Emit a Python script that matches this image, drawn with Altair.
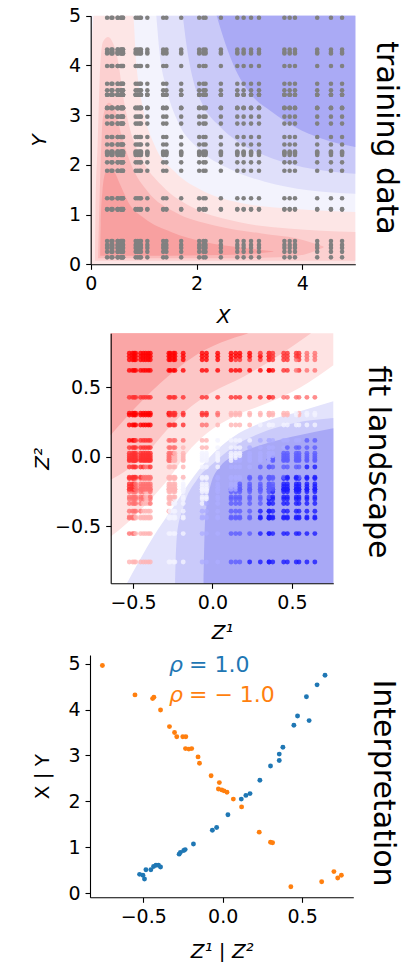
import altair as alt
import numpy as np
import pandas as pd

W, H = 404, 962
FONT = "DejaVu Sans"

# ---------------- values ----------------
# latent mapping, read from the "Interpretation" panel
x_vals = [0.41, 0.39, 0.31, 0.51, 0.51, 0.58, 0.61, 0.61, 0.57, 0.85, 0.89, 0.93, 0.95, 1.07,
          1.37, 1.43, 1.71, 2.05, 2.13, 2.17, 2.46, 2.77, 2.89, 3.03, 3.18, 3.66, 3.86, 3.76,
          4.28, 4.54, 4.75]
z1_vals = [-0.523, -0.502, -0.492, -0.483, -0.452, -0.435, -0.420, -0.404, -0.391, -0.274,
           -0.266, -0.245, -0.236, -0.184, -0.065, -0.038, 0.033, 0.117, 0.146, 0.172, 0.234,
           0.301, 0.356, 0.356, 0.379, 0.448, 0.471, 0.544, 0.527, 0.594, 0.644]
y_vals = [4.96, 4.32, 4.24, 4.27, 3.99, 3.63, 3.50, 3.41, 3.41, 3.41, 3.15, 3.14, 3.15, 2.97,
          2.83, 2.56, 2.41, 2.27, 2.25, 2.23, 2.20, 2.05, 1.88, 1.33, 1.11, 1.10, 0.14, 0.25,
          0.47, 0.33, 0.39]
z2_vals = [-0.757, -0.552, -0.441, -0.433, -0.391, -0.335, -0.303, -0.289, -0.251, -0.232,
           -0.234, -0.213, -0.195, -0.155, -0.146, -0.073, -0.021, -0.027, -0.006, 0.008,
           0.027, 0.067, 0.119, 0.230, 0.301, 0.314, 0.429, 0.623, 0.700, 0.724, 0.747]

# panel 1 ("training data") filled-contour band edges (data units)
p1_r0_x = [0.0, 0.06, 0.80, 0.86, 0.99, 1.21, 1.59, 2.15, 2.91, 3.86, 5.0]
p1_r0_y = [3.8, 5.0, 5.0, 4.07, 3.13, 2.39, 1.86, 1.46, 1.22, 1.11, 1.05]

p1_r1_x = [0.08, 0.09, 0.13, 0.17, 0.23, 0.33, 0.42, 0.52, 0.61, 0.74, 0.96, 1.34, 1.97, 2.79, 3.73, 5.0]
p1_r1_y = [0.07, 1.05, 2.39, 3.74, 4.47, 4.57, 4.45, 4.07, 3.40, 2.73, 2.13, 1.59, 1.12, 0.85, 0.72, 0.65]
p1_r1_y2 = [0.07] * 16

p1_r2_x = [0.14, 0.16, 0.19, 0.23, 0.34, 0.45, 0.58, 0.77, 1.08, 1.59, 2.34, 3.23, 3.90, 4.40]
p1_r2_y = [0.12, 1.05, 2.06, 2.95, 3.25, 3.13, 2.60, 1.99, 1.46, 1.05, 0.78, 0.62, 0.52, 0.36]
p1_r2_y2 = [0.12, 0.12, 0.12, 0.12, 0.12, 0.12, 0.12, 0.12, 0.12, 0.12, 0.12, 0.13, 0.17, 0.34]

p1_r3_x = [0.18, 0.19, 0.22, 0.28, 0.36, 0.45, 0.55, 0.71, 1.02, 1.52, 2.15, 2.91, 3.45]
p1_r3_y = [0.17, 0.80, 1.45, 1.85, 1.93, 1.85, 1.62, 1.25, 0.92, 0.65, 0.45, 0.33, 0.26]
p1_r3_y2 = [0.17, 0.17, 0.17, 0.17, 0.17, 0.17, 0.17, 0.17, 0.17, 0.17, 0.18, 0.20, 0.25]

p1_b1_x = [1.24, 1.30, 1.43, 1.65, 2.03, 2.60, 3.29, 4.11, 5.0]
p1_b1_y = [5.0, 4.27, 3.54, 2.86, 2.33, 1.93, 1.66, 1.49, 1.42]
p1_b2_x = [1.74, 1.81, 1.93, 2.12, 2.41, 2.79, 3.29, 3.86, 4.49, 5.0]
p1_b2_y = [5.0, 4.41, 3.73, 3.20, 2.80, 2.46, 2.19, 1.99, 1.87, 1.82]
p1_b3_x = [2.38, 2.60, 2.79, 3.04, 3.42, 3.86, 4.36, 5.0]
p1_b3_y = [5.0, 4.27, 3.80, 3.40, 3.07, 2.76, 2.53, 2.36]

# panel 2 ("fit landscape") band edges (data units)
p2_r0_x = [-0.64, -0.538, -0.392, -0.266, -0.161, -0.035, 0.132, 0.342, 0.552, 0.76]
p2_r0_y = [-0.573, -0.477, -0.309, -0.142, 0.027, 0.170, 0.290, 0.386, 0.500, 0.66]
p2_r1_x = [-0.64, -0.538, -0.413, -0.287, -0.161, -0.014, 0.195, 0.405, 0.62]
p2_r1_y = [-0.165, -0.094, 0.027, 0.194, 0.338, 0.458, 0.578, 0.722, 0.89]
p2_r2_x = [-0.64, -0.538, -0.329, -0.119, 0.227]
p2_r2_y = [0.158, 0.290, 0.530, 0.722, 0.89]
p2_b1_x = [-0.538, -0.371, -0.245, -0.119, 0.006, 0.132, 0.300, 0.509, 0.76]
p2_b1_y = [-0.91, -0.573, -0.358, -0.142, 0.027, 0.146, 0.242, 0.314, 0.40]
p2_b2_x = [-0.235, -0.224, -0.182, -0.098, 0.006, 0.132, 0.300, 0.509, 0.76]
p2_b2_y = [-0.91, -0.573, -0.358, -0.165, -0.046, 0.074, 0.170, 0.242, 0.28]
p2_b3_x = [-0.056, -0.046, -0.014, 0.048, 0.174, 0.342, 0.552, 0.76]
p2_b3_y = [-0.91, -0.453, -0.213, -0.069, 0.027, 0.098, 0.158, 0.206]

# domains and ticks
p1_xdom, p1_ydom = [0, 5], [0, 5]
p2_xdom, p2_ydom = [-0.64, 0.76], [-0.91, 0.89]
p3_xdom, p3_ydom = [-0.835, 0.822], [-0.09, 5.19]
p1_xticks, p1_yticks = [0, 2, 4], [0, 1, 2, 3, 4, 5]
p2_xticks, p2_yticks = [-0.5, 0.0, 0.5], [-0.5, 0.0, 0.5]
p3_xticks, p3_yticks = [-0.5, 0.0, 0.5], [0, 1, 2, 3, 4, 5]

# colours
p1_cols = {"base": "#f3f3fd", "r0": "#fde6e6", "r1": "#fcd0d0", "r2": "#fab9b9", "r3": "#f8a0a0",
           "b1": "#e0e0fa", "b2": "#c9c9f8", "b3": "#aaaaf5"}
p2_cols = {"r0": "#fee3e3", "r1": "#fcc6c6", "r2": "#faa6a6",
           "b1": "#e3e3fc", "b2": "#cacafa", "b3": "#a8a8f6"}
lev_domain = [-4, -3, -2, -1, 0, 1, 2, 3]
lev_range = ["#ff0000", "#ff3030", "#ff7070", "#ffb4b4", "#f2f2ff", "#adadff", "#5c5cff", "#1c1cff"]

# ---------------- layout (pixels) ----------------
P1 = dict(left=90.7, right=355.3, top=15.7, bottom=264.3)
P2 = dict(left=110.7, right=333.3, top=333.3, bottom=583.3)
P3 = dict(left=90.0, right=353.3, top=655.0, bottom=897.3)


def x_axis(P, vals, fmt, title, title_y, italic=True):
    return alt.Axis(orient="bottom", offset=P["bottom"] - H, values=vals, format=fmt, title=title,
                    grid=False, domainColor="black", domainWidth=1.1, tickColor="black",
                    tickWidth=1.1, tickSize=5, labelFont=FONT, labelFontSize=19,
                    labelColor="black", labelPadding=5, labelFlush=False, labelOverlap=False,
                    titleFont=FONT, titleFontSize=20, titleFontWeight="normal",
                    titleFontStyle="italic" if italic else "normal", titleColor="black",
                    titleX=(P["left"] + P["right"]) / 2, titleY=title_y - P["bottom"],
                    titleAlign="center", titleBaseline="middle", titleAngle=0, zindex=3)


def y_axis(P, vals, fmt, title, title_x, italic=True):
    return alt.Axis(orient="left", offset=-P["left"], values=vals, format=fmt, title=title,
                    grid=False, domainColor="black", domainWidth=1.1, tickColor="black",
                    tickWidth=1.1, tickSize=5, labelFont=FONT, labelFontSize=19,
                    labelColor="black", labelPadding=5, labelFlush=False, labelOverlap=False,
                    titleFont=FONT, titleFontSize=20, titleFontWeight="normal",
                    titleFontStyle="italic" if italic else "normal", titleColor="black",
                    titleX=title_x - P["left"], titleY=(P["top"] + P["bottom"]) / 2,
                    titleAlign="center", titleBaseline="middle", titleAngle=270, zindex=3)


def enc_xy(P, xdom, ydom, xa, ya):
    xs = alt.Scale(domain=xdom, range=[P["left"], P["right"]], nice=False, zero=False)
    ys = alt.Scale(domain=ydom, range=[P["bottom"], P["top"]], nice=False, zero=False)
    return (lambda f: alt.X(f, type="quantitative", scale=xs, axis=xa),
            lambda f: alt.Y(f, type="quantitative", scale=ys, axis=ya))


def area(xs, ys, y2s, color, X, Y):
    df = pd.DataFrame({"x": xs, "y": ys, "y2": y2s})
    return alt.Chart(df).mark_area(color=color, opacity=1, interpolate="monotone").encode(
        x=X("x"), y=Y("y"), y2=alt.Y2("y2"))


# ---------------- panel 1: training data ----------------
X1, Y1 = enc_xy(P1, p1_xdom, p1_ydom,
                x_axis(P1, p1_xticks, "d", "X", 316),
                y_axis(P1, p1_yticks, "d", "Y", 40))
top1 = [p1_ydom[1]]
p1_layers = [
    area(p1_xdom, [p1_ydom[1]] * 2, [p1_ydom[0]] * 2, p1_cols["base"], X1, Y1),
    area(p1_r0_x, p1_r0_y, [p1_ydom[0]] * len(p1_r0_x), p1_cols["r0"], X1, Y1),
    area(p1_r1_x, p1_r1_y, p1_r1_y2, p1_cols["r1"], X1, Y1),
    area(p1_r2_x, p1_r2_y, p1_r2_y2, p1_cols["r2"], X1, Y1),
    area(p1_r3_x, p1_r3_y, p1_r3_y2, p1_cols["r3"], X1, Y1),
    area(p1_b1_x, p1_b1_y, top1 * len(p1_b1_x), p1_cols["b1"], X1, Y1),
    area(p1_b2_x, p1_b2_y, top1 * len(p1_b2_x), p1_cols["b2"], X1, Y1),
    area(p1_b3_x, p1_b3_y, top1 * len(p1_b3_x), p1_cols["b3"], X1, Y1),
]
grid1 = pd.DataFrame([(xv, yv) for yv in y_vals for xv in x_vals], columns=["x", "y"])
p1_layers.append(alt.Chart(grid1).mark_circle(size=21, color="#808080", opacity=1).encode(
    x=X1("x"), y=Y1("y")))
panel1 = alt.layer(*p1_layers)


# band of the training-data landscape in which a training point sits (gives its colour)
def band_of(px, py):
    lev = -1 if py <= np.interp(px, p1_r0_x, p1_r0_y) else 0
    for k, (bx, by, b2) in enumerate([(p1_r1_x, p1_r1_y, p1_r1_y2),
                                      (p1_r2_x, p1_r2_y, p1_r2_y2),
                                      (p1_r3_x, p1_r3_y, p1_r3_y2)], start=2):
        if bx[0] <= px <= bx[-1] and np.interp(px, bx, b2) <= py <= np.interp(px, bx, by):
            lev = -k
    for k, (bx, by) in enumerate([(p1_b1_x, p1_b1_y), (p1_b2_x, p1_b2_y),
                                  (p1_b3_x, p1_b3_y)], start=1):
        if px >= bx[0] and py >= np.interp(px, bx, by):
            lev = k
    return lev


# ---------------- panel 2: fit landscape ----------------
X2, Y2 = enc_xy(P2, p2_xdom, p2_ydom,
                x_axis(P2, p2_xticks, ".1f", "Z¹", 632),
                y_axis(P2, p2_yticks, ".1f", "Z²", 42))
top2, bot2 = [p2_ydom[1]], [p2_ydom[0]]
p2_layers = [
    area(p2_r0_x, p2_r0_y, top2 * len(p2_r0_x), p2_cols["r0"], X2, Y2),
    area(p2_r1_x, p2_r1_y, top2 * len(p2_r1_x), p2_cols["r1"], X2, Y2),
    area(p2_r2_x, p2_r2_y, top2 * len(p2_r2_x), p2_cols["r2"], X2, Y2),
    area(p2_b1_x, p2_b1_y, bot2 * len(p2_b1_x), p2_cols["b1"], X2, Y2),
    area(p2_b2_x, p2_b2_y, bot2 * len(p2_b2_x), p2_cols["b2"], X2, Y2),
    area(p2_b3_x, p2_b3_y, bot2 * len(p2_b3_x), p2_cols["b3"], X2, Y2),
]
rows2 = []
for yv, zy in zip(y_vals, z2_vals):
    for xv, zx in zip(x_vals, z1_vals):
        rows2.append((zx, zy, band_of(xv, yv)))
grid2 = pd.DataFrame(rows2, columns=["x", "y", "lev"])
p2_layers.append(alt.Chart(grid2).mark_circle(size=24, opacity=0.8).encode(
    x=X2("x"), y=Y2("y"),
    color=alt.Color("lev:Q", scale=alt.Scale(domain=lev_domain, range=lev_range), legend=None)))
panel2 = alt.layer(*p2_layers)

# ---------------- panel 3: interpretation ----------------
X3, Y3 = enc_xy(P3, p3_xdom, p3_ydom,
                x_axis(P3, p3_xticks, ".1f", "Z¹ | Z²", 951),
                y_axis(P3, p3_yticks, "d", "X | Y", 42.5, italic=False))
df_blue = pd.DataFrame({"x": z1_vals, "y": x_vals})
df_orange = pd.DataFrame({"x": z2_vals, "y": y_vals})
panel3 = alt.layer(
    alt.Chart(df_blue).mark_circle(size=24, color="#1f77b4", opacity=1).encode(x=X3("x"), y=Y3("y")),
    alt.Chart(df_orange).mark_circle(size=24, color="#ff7f0e", opacity=1).encode(x=X3("x"), y=Y3("y")),
)


def text(txt, x, y, size, color="black", angle=0, align="center", baseline="middle", style="normal"):
    return alt.Chart(pd.DataFrame({"t": [txt]})).mark_text(
        font=FONT, fontSize=size, color=color, angle=angle, align=align, baseline=baseline,
        fontStyle=style
    ).encode(x=alt.value(x), y=alt.value(y), text="t:N")


texts = [
    text("training data", 386, 138, 30, angle=90),
    text("fit landscape", 378, 462, 30, angle=90),
    text("Interpretation", 383, 783, 30, angle=90),
    text("ρ", 169, 671.5, 22, color="#1f77b4", align="left", baseline="alphabetic", style="italic"),
    text("= 1.0", 189, 671.5, 22, color="#1f77b4", align="left", baseline="alphabetic"),
    text("ρ", 169, 701.5, 22, color="#ff7f0e", align="left", baseline="alphabetic", style="italic"),
    text("= − 1.0", 189, 701.5, 22, color="#ff7f0e", align="left", baseline="alphabetic"),
]

chart = alt.layer(panel1, panel2, panel3, *texts).resolve_scale(
    x="independent", y="independent", color="independent"
).resolve_axis(
    x="independent", y="independent"
).properties(
    width=W, height=H, padding=0, autosize=alt.AutoSizeParams(type="none")
).configure_view(strokeWidth=0)

chart.save("out.html", embed_options={"renderer": "svg", "actions": False})
